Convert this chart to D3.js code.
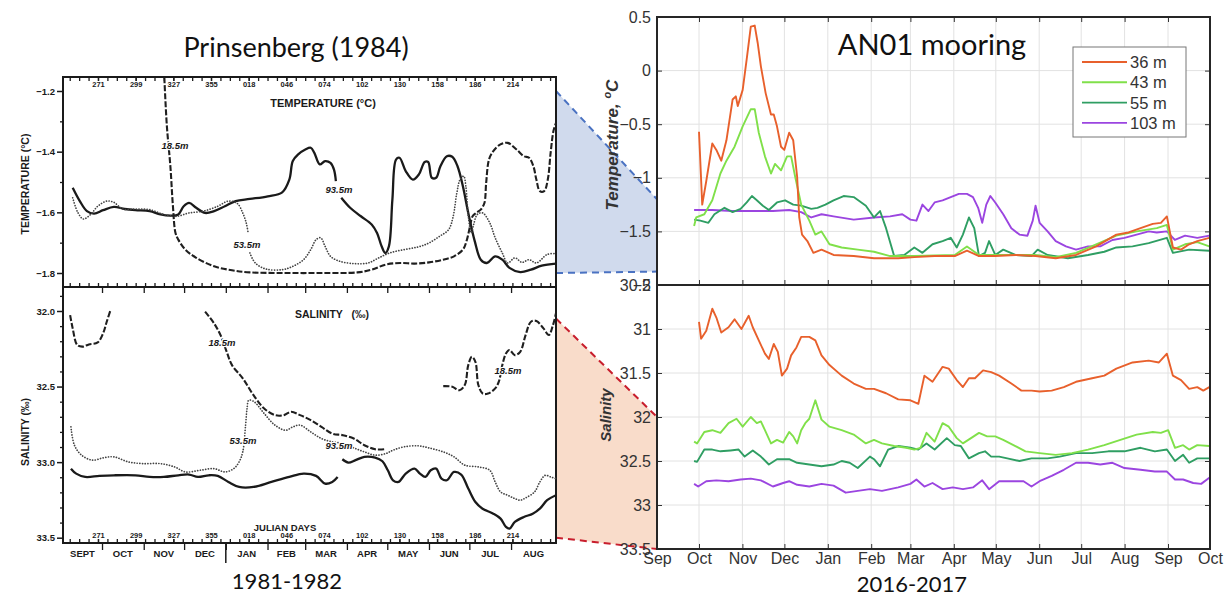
<!DOCTYPE html>
<html>
<head>
<meta charset="utf-8">
<script src="https://cdn.jsdelivr.net/npm/d3@7"></script>
<style>
  body { margin: 0; background: #fff; }
  svg { display: block; }
  .scan text { font-family: "Liberation Sans", Arial, sans-serif; font-weight: bold; fill: #1a1a1a; }
  .matlab text { font-family: "Liberation Sans", Arial, sans-serif; fill: #333; }
</style>
</head>
<body>
<svg id="fig" width="1225" height="596"></svg>
<script>
// ================= 1981-1982 record (Prinsenberg, 1984) =================
// x values are Julian days counted from 1 Jan 1981 (1982 days continue past 365)
const julianDays   = [271, 299, 327, 355, 383, 411, 439, 467, 495, 523, 551, 579];
const julianLabels = ["271", "299", "327", "355", "018", "046", "074", "102", "130", "158", "186", "214"];
const oldMonthNames  = ["SEPT", "OCT", "NOV", "DEC", "JAN", "FEB", "MAR", "APR", "MAY", "JUN", "JUL", "AUG"];
const oldMonthBounds = [245, 274, 305, 335, 366, 397, 425, 456, 486, 517, 547, 578, 611.4];
const oldTempTicks  = [-1.2, -1.4, -1.6, -1.8];
const oldTempMinor  = [-1.3, -1.5, -1.7];
const oldSalTicks   = [32.0, 32.5, 33.0, 33.5];
const oldSalMinor   = [31.9, 32.1, 32.2, 32.3, 32.4, 32.6, 32.7, 32.8, 32.9, 33.1, 33.2, 33.3, 33.4];

// temperature, 93.5 m (solid), two pieces around its label
const t935a = [[252.2,-1.519],[257.5,-1.563],[262.8,-1.596],[268.1,-1.604],[274.8,-1.593],[282.8,-1.582],[290.8,-1.589],[298.8,-1.593],[309.4,-1.596],[317.4,-1.607],[325.4,-1.611],[330.7,-1.607],[334.7,-1.580],[338.7,-1.569],[344,-1.585],[350.6,-1.602],[357.3,-1.596],[365.3,-1.580],[373.3,-1.563],[383.9,-1.556],[397.2,-1.547],[407.9,-1.534],[413.2,-1.492],[415.8,-1.431],[419.8,-1.409],[425.1,-1.393],[429.1,-1.387],[431.8,-1.404],[435.8,-1.442],[439.8,-1.431],[443.8,-1.437],[446.4,-1.459],[447.8,-1.497]];
const t935b = [[451.8,-1.552],[458.4,-1.585],[466.4,-1.613],[474.4,-1.640],[478.4,-1.668],[481.8,-1.712],[484.5,-1.734],[487.2,-1.712],[489.8,-1.558],[492.5,-1.426],[495.1,-1.420],[499.7,-1.464],[505,-1.492],[509.5,-1.475],[513.8,-1.434],[516.4,-1.434],[519.1,-1.486],[522.3,-1.486],[525.5,-1.448],[530.3,-1.415],[534.3,-1.417],[538.2,-1.448],[542.2,-1.514],[546.2,-1.602],[551,-1.695],[555.5,-1.756],[560,-1.767],[566.2,-1.745],[571.5,-1.756],[576.8,-1.783],[584.8,-1.797],[592.8,-1.789],[600.8,-1.776],[611.4,-1.769]];
// temperature, 53.5 m (dotted)
const t535a = [[252.2,-1.552],[256.2,-1.602],[260.2,-1.622],[265.5,-1.607],[270.8,-1.580],[277.5,-1.563],[282.8,-1.567],[289.4,-1.589],[298.8,-1.589],[309.4,-1.591],[320,-1.607],[329.4,-1.613],[338.7,-1.602],[349.3,-1.596],[360,-1.580],[367.9,-1.563],[374.6,-1.571],[378.6,-1.602],[381.2,-1.635],[382.6,-1.668]];
const t535b = [[383.9,-1.734],[387.9,-1.767],[395.9,-1.787],[407.9,-1.789],[415.8,-1.778],[423.8,-1.756],[429.1,-1.723],[433.1,-1.690],[436.5,-1.684],[439.8,-1.712],[443.8,-1.745],[450.4,-1.761],[461.1,-1.769],[471.7,-1.767],[479.7,-1.750],[487.7,-1.734],[498.3,-1.723],[509,-1.714],[517,-1.701],[524.9,-1.679],[531.6,-1.657],[535,-1.613],[537.7,-1.536],[540.1,-1.492],[542.8,-1.481],[544.4,-1.514],[546.2,-1.613],[548.4,-1.668],[550.2,-1.640],[552.9,-1.607],[556.9,-1.602],[562.2,-1.635],[566.2,-1.684],[571.5,-1.734],[575.5,-1.767],[580.8,-1.750],[586.1,-1.765],[591.4,-1.756],[596.8,-1.767],[604.8,-1.739],[611.4,-1.736]];
// temperature, 18.5 m (dashed)
const t185 = [[320.3,-1.155],[322.2,-1.316],[324.8,-1.448],[326.7,-1.580],[328.6,-1.668],[330.7,-1.690],[336,-1.723],[344,-1.750],[357.3,-1.778],[370.6,-1.791],[383.9,-1.798],[410.5,-1.800],[437.1,-1.800],[463.7,-1.798],[474.4,-1.789],[485,-1.772],[495.7,-1.767],[506.3,-1.769],[517,-1.765],[527.6,-1.756],[535.6,-1.745],[542.2,-1.723],[544.9,-1.695],[547.5,-1.646],[549.4,-1.613],[552,-1.602],[555.5,-1.591],[558.2,-1.569],[559.5,-1.503],[561.6,-1.426],[564.8,-1.398],[570.1,-1.376],[575.5,-1.371],[582.1,-1.393],[587.5,-1.415],[591.4,-1.420],[594.6,-1.448],[596.8,-1.492],[599.4,-1.530],[602.6,-1.530],[605.3,-1.492],[607.4,-1.404],[609.5,-1.332],[611.4,-1.305]];

// salinity, 93.5 m (solid)
const s935a = [[250.9,33.043],[254.8,33.076],[261.5,33.098],[272.1,33.091],[282.8,33.087],[298.8,33.087],[309.4,33.098],[320,33.098],[330.7,33.087],[338.7,33.082],[345.3,33.098],[353.3,33.087],[360,33.091],[367.9,33.131],[375.9,33.164],[386.6,33.164],[399.9,33.131],[413.2,33.098],[423.8,33.076],[433.1,33.091],[439.8,33.142],[445.1,33.131],[449.1,33.098]];
const s935b = [[452.6,32.981],[457.1,33.003],[462.4,32.987],[469,32.965],[477,32.970],[482.4,32.994],[486.4,33.054],[490.3,33.120],[494.3,33.131],[499.7,33.076],[506.3,33.043],[510.3,33.076],[514.3,33.098],[518.3,33.054],[522.3,33.043],[526.3,33.109],[530.3,33.120],[535.6,33.065],[540.9,33.082],[546.2,33.175],[551.5,33.264],[556.8,33.308],[564.8,33.341],[570.2,33.374],[574.2,33.429],[576.8,33.440],[580.8,33.396],[587.5,33.363],[594.1,33.341],[599.4,33.308],[604.8,33.252],[611.4,33.219]];
// salinity, 53.5 m (dotted)
const s535 = [[250.9,32.767],[253.5,32.888],[258.8,32.954],[266.8,32.987],[274.8,32.972],[282.8,32.965],[293.4,32.998],[304.1,33.010],[317.4,33.010],[328,33.032],[336,33.065],[346.6,33.054],[357.3,33.043],[365.3,33.065],[371.9,33.043],[375.9,32.998],[378.6,32.932],[380.7,32.755],[381.8,32.645],[383.1,32.590],[387.1,32.601],[394.5,32.678],[402.5,32.755],[410.5,32.789],[415.8,32.767],[421.2,32.755],[429.1,32.800],[437.1,32.844],[445.1,32.866],[453.1,32.877],[461.1,32.906],[469,32.932],[477,32.954],[485,32.943],[490.3,32.921],[498.3,32.899],[509,32.892],[517,32.906],[527.6,32.932],[535.6,32.965],[543.6,33.020],[554.2,33.032],[562.2,33.054],[566.2,33.131],[570.2,33.197],[575.5,33.219],[580.8,33.241],[584.8,33.252],[588.8,33.237],[595.5,33.197],[599.4,33.131],[603.4,33.087],[607.4,33.098],[611.4,33.109]];
// salinity, 18.5 m (dashed), three pieces
const s185a = [[250.3,32.027],[252.2,32.115],[255.6,32.225],[259.4,32.236],[264.2,32.221],[270.8,32.208],[274.8,32.148],[277.5,32.071],[280.1,32.0]];
const s185b = [[350.6,32.004],[357.3,32.082],[362.6,32.170],[366.6,32.269],[370.6,32.358],[378.6,32.446],[386.6,32.557],[394.5,32.645],[402.5,32.689],[409.2,32.689],[414.5,32.667],[421.2,32.689],[429.1,32.722],[437.1,32.767],[445.1,32.811],[453.1,32.822],[461.1,32.844],[469,32.888],[477,32.915],[483.7,32.915]];
const s185c = [[527.6,32.497],[534.3,32.501],[539.6,32.524],[543.6,32.490],[546.2,32.358],[548.9,32.303],[551.5,32.336],[553.7,32.490],[556.9,32.546],[560.9,32.546],[566.2,32.512],[568.9,32.468],[571.5,32.358],[574.2,32.281],[576.8,32.258],[580.8,32.292],[584.8,32.270],[588.8,32.159],[592.8,32.071],[596.8,32.066],[602.1,32.115],[606.1,32.159],[608.8,32.104],[611.4,32.015]];

// ================= 2016-2017 record (AN01 mooring) =================
// x values are days after 1 Sep 2016
const anMonthNames = ["Sep","Oct","Nov","Dec","Jan","Feb","Mar","Apr","May","Jun","Jul","Aug","Sep","Oct"];
const anTempTicks = [0.5, 0, -0.5, -1, -1.5, -2];
const anSalTicks  = [30.5, 31, 31.5, 32, 32.5, 33, 33.5];
const depthNames  = ["36 m", "43 m", "55 m", "103 m"];
const depthColors = ["#e8602c", "#80e04a", "#2f9e63", "#9b45e0"];

const temp36 = [[30,-0.57],[32.3,-1.25],[35.2,-1.03],[39.5,-0.68],[42.4,-0.74],[45.9,-0.84],[49.6,-0.65],[54,-0.27],[56.3,-0.24],[57.7,-0.33],[61.2,-0.18],[64.1,0.11],[67,0.41],[69.8,0.42],[71.9,0.26],[74.2,0.04],[77.6,-0.21],[81.4,-0.41],[83.4,-0.41],[85.7,-0.52],[88.6,-0.71],[90.9,-0.74],[94.4,-0.58],[97.3,-0.65],[100.1,-0.99],[101.6,-1.37],[103.6,-1.53],[107.4,-1.59],[111.7,-1.70],[117.5,-1.67],[126.1,-1.72],[140.5,-1.73],[155,-1.75],[172.3,-1.75],[183.8,-1.74],[198.3,-1.73],[212.7,-1.73],[221.4,-1.68],[230,-1.73],[241.6,-1.73],[256,-1.72],[270.4,-1.73],[284.8,-1.75],[299.3,-1.72],[313.7,-1.64],[328.1,-1.53],[336.8,-1.51],[345.4,-1.47],[354.1,-1.43],[359.9,-1.42],[364.2,-1.36],[368.5,-1.65],[374.3,-1.67],[380.1,-1.62],[385.9,-1.59],[394.5,-1.56]];
const temp43 = [[26.5,-1.45],[28,-1.37],[33.8,-1.34],[39.5,-1.21],[45.3,-0.96],[49.6,-0.84],[55.4,-0.71],[61.2,-0.52],[67,-0.36],[69.8,-0.36],[72.7,-0.58],[77.1,-0.80],[81.4,-0.96],[84.3,-0.87],[88.6,-0.93],[92.9,-0.80],[95.8,-0.80],[98.7,-0.99],[103,-1.25],[108.8,-1.40],[113.1,-1.53],[117.5,-1.50],[123.2,-1.62],[131.9,-1.65],[143.4,-1.67],[155,-1.69],[166.5,-1.73],[183.8,-1.73],[212.7,-1.72],[221.4,-1.64],[230,-1.72],[241.6,-1.72],[270.4,-1.72],[284.8,-1.74],[299.3,-1.70],[313.7,-1.62],[328.1,-1.54],[342.6,-1.50],[357,-1.47],[364.2,-1.44],[368.5,-1.67],[377.2,-1.62],[385.9,-1.60],[394.5,-1.64]];
const temp55 = [[26.5,-1.39],[30.9,-1.40],[36.7,-1.42],[41,-1.34],[48.2,-1.28],[54,-1.32],[59.7,-1.29],[64.1,-1.23],[67.8,-1.17],[71.3,-1.21],[75.6,-1.26],[79.9,-1.30],[85.7,-1.23],[91.5,-1.21],[97.3,-1.25],[103,-1.26],[110.2,-1.29],[114.6,-1.28],[120.3,-1.25],[126.1,-1.21],[133.3,-1.17],[140.5,-1.18],[149.2,-1.26],[155,-1.37],[159.3,-1.31],[163.6,-1.47],[169.4,-1.73],[176.6,-1.72],[183.8,-1.65],[189.6,-1.70],[196.8,-1.62],[204,-1.59],[209.8,-1.56],[214.1,-1.65],[218.5,-1.53],[222.8,-1.37],[226.6,-1.47],[230,-1.73],[234.3,-1.70],[237.2,-1.59],[241.6,-1.72],[247.3,-1.67],[256,-1.72],[267.5,-1.73],[271.9,-1.67],[279,-1.72],[293.5,-1.75],[307.9,-1.72],[319.5,-1.69],[328.1,-1.65],[339.7,-1.64],[351.2,-1.61],[364.2,-1.56],[368.5,-1.70],[380.1,-1.67],[394.5,-1.68]];
const temp103 = [[26.5,-1.30],[39.5,-1.30],[54,-1.31],[68.4,-1.31],[82.8,-1.31],[94.4,-1.30],[103,-1.32],[110.2,-1.37],[117.5,-1.34],[126.1,-1.36],[140.5,-1.39],[155,-1.37],[166.5,-1.36],[175.2,-1.34],[181,-1.39],[185.3,-1.40],[189.6,-1.25],[193.9,-1.31],[198.3,-1.23],[204,-1.21],[209.8,-1.18],[215.6,-1.15],[221.4,-1.15],[225.7,-1.18],[229.4,-1.28],[232.3,-1.42],[235.2,-1.25],[238.1,-1.17],[241.6,-1.23],[247.3,-1.34],[253.1,-1.47],[258.9,-1.53],[264.6,-1.54],[268.4,-1.40],[270.4,-1.26],[273.3,-1.42],[279,-1.50],[284.8,-1.59],[292.1,-1.64],[299.3,-1.67],[307.9,-1.64],[316.6,-1.64],[325.3,-1.58],[333.9,-1.56],[342.6,-1.53],[351.2,-1.50],[357,-1.51],[364.2,-1.50],[369.9,-1.58],[377.2,-1.54],[385.9,-1.56],[394.5,-1.54]];

const sal36 = [[30,30.92],[31.5,31.11],[35.2,31.02],[39.5,30.77],[42.4,30.87],[45.9,31.04],[51.1,30.98],[55.4,30.89],[60.3,31.0],[65.5,30.85],[68.4,30.98],[72.7,31.13],[77.1,31.28],[79.9,31.34],[83.4,31.17],[86.3,31.26],[89.2,31.53],[92.9,31.45],[95.8,31.30],[99.6,31.21],[103,31.09],[108.8,31.09],[113.1,31.13],[117.5,31.30],[123.2,31.41],[131.9,31.53],[140.5,31.62],[149.2,31.68],[155,31.68],[163.6,31.73],[172.3,31.80],[181,31.81],[186.7,31.85],[191,31.53],[196.8,31.60],[204,31.43],[208.4,31.45],[214.1,31.58],[218.5,31.66],[222.8,31.56],[227.1,31.56],[232.9,31.47],[238.7,31.49],[244.4,31.53],[253.1,31.62],[260.3,31.70],[267.5,31.70],[273.3,31.71],[281.9,31.70],[290.6,31.66],[299.3,31.60],[310.8,31.56],[319.5,31.53],[328.1,31.45],[339.7,31.38],[351.2,31.36],[358.5,31.38],[364.2,31.28],[368.5,31.53],[374.3,31.58],[380.1,31.68],[385.9,31.66],[390.2,31.70],[394.5,31.66]];
const sal43 = [[26.5,32.28],[28.6,32.30],[33.8,32.17],[39.5,32.15],[45.3,32.18],[51.1,32.07],[56.8,32.02],[61.2,32.11],[67,32.00],[71.3,32.07],[74.2,32.05],[77.1,32.15],[81.4,32.30],[85.7,32.26],[90.1,32.29],[94.4,32.17],[97.3,32.22],[100.1,32.30],[103,32.15],[105.9,32.07],[108.8,32.02],[113.1,31.81],[117.5,32.03],[123.2,32.11],[131.9,32.15],[140.5,32.20],[149.2,32.30],[155,32.26],[160.7,32.30],[169.4,32.33],[178,32.35],[183.8,32.37],[188.2,32.35],[192.5,32.18],[198.3,32.28],[204,32.07],[208.4,32.11],[214.1,32.24],[218.5,32.30],[224.3,32.24],[230,32.18],[235.8,32.22],[241.6,32.22],[247.3,32.26],[256,32.33],[263.2,32.39],[273.3,32.41],[284.8,32.43],[296.4,32.41],[307.9,32.37],[319.5,32.32],[331,32.26],[342.6,32.20],[354.1,32.17],[359.9,32.18],[365.1,32.15],[370,32.35],[375.8,32.32],[380.1,32.37],[385.9,32.32],[394.5,32.33]];
const sal55 = [[26.5,32.50],[28.6,32.51],[33.8,32.37],[39.5,32.37],[45.3,32.39],[52.5,32.38],[58.3,32.37],[62.6,32.45],[68.4,32.38],[74.2,32.45],[79.9,32.54],[85.7,32.48],[94.4,32.48],[100.1,32.52],[108.8,32.54],[117.5,32.56],[126.1,32.54],[131.9,32.50],[137.6,32.52],[143.4,32.58],[152.1,32.45],[155,32.48],[159.3,32.56],[165.1,32.37],[172.3,32.33],[181,32.35],[186.7,32.37],[192.5,32.30],[198.3,32.37],[207,32.24],[212.7,32.32],[217,32.33],[222.8,32.47],[230,32.41],[234.3,32.39],[238.7,32.45],[244.4,32.45],[250.2,32.47],[258.9,32.50],[267.5,32.47],[279,32.47],[287.7,32.45],[299.3,32.41],[310.8,32.41],[322.4,32.39],[333.9,32.39],[345.4,32.35],[355.6,32.39],[364.2,32.37],[370,32.50],[375.8,32.43],[380.1,32.52],[385.9,32.47],[394.5,32.47]];
const sal103 = [[26.5,32.76],[29.4,32.79],[35.2,32.73],[42.4,32.72],[51.1,32.73],[59.7,32.71],[67,32.70],[74.2,32.72],[82.8,32.79],[90.1,32.75],[94.4,32.73],[100.1,32.77],[108.8,32.79],[117.5,32.76],[126.1,32.78],[134.8,32.86],[143.4,32.84],[152.1,32.82],[160.7,32.84],[172.3,32.80],[181,32.76],[185.3,32.71],[191,32.79],[196.8,32.75],[204,32.82],[211.3,32.80],[218.5,32.82],[225.7,32.80],[232.3,32.72],[237.2,32.82],[244.4,32.73],[253.1,32.73],[261.8,32.73],[267.5,32.79],[273.3,32.73],[281.9,32.67],[290.6,32.60],[299.3,32.52],[307.9,32.52],[316.6,32.54],[325.3,32.52],[333.9,32.58],[345.4,32.60],[355.6,32.62],[364.2,32.62],[370,32.71],[375.8,32.71],[383,32.75],[388.7,32.76],[394.5,32.69]];

// value pairs linking the two temperature and salinity axes: [left axis, right axis]
const tempLink = [[-1.2, -1.2], [-1.8, -1.875]];
const salLink  = [[32.05, 32.0], [33.5, 33.5]];

// ----------------------------------------------------------------------
const svg = d3.select("#fig");

// left figure geometry
const L = { left: 63, right: 556, top: 77, mid: 287, bottom: 543 };
const xL  = d3.scaleLinear().domain([245, 611.4]).range([L.left, L.right]);
const yLT = d3.scaleLinear().domain([-1.2, -1.8]).range([91, 273]);
const yLS = d3.scaleLinear().domain([32.0, 33.5]).range([311, 537.7]);

// right figure geometry
const R = { left: 657, right: 1210, top: 17, mid: 285, bottom: 549 };
const anStart = new Date(2016, 8, 1);
const dayToDate = d => new Date(anStart.getTime() + d * 864e5);
const xR  = d3.scaleTime().domain([anStart, new Date(2017, 9, 1)]).range([R.left, R.right]);
const yRT = d3.scaleLinear().domain([-2, 0.5]).range([R.mid, R.top]);
const yRS = d3.scaleLinear().domain([30.5, 33.5]).range([R.mid, R.bottom]);
const anMonthTicks = d3.timeMonth.range(anStart, new Date(2017, 9, 2));

// ---------------- connecting wedges ----------------
const wedges = svg.append("g");
function wedge(link, yLeft, yRight, fill, stroke) {
  const pts = [
    [L.right, yLeft(link[0][0])], [R.left, yRight(link[0][1])],
    [R.left, yRight(link[1][1])], [L.right, yLeft(link[1][0])]
  ];
  wedges.append("path").attr("d", d3.line()(pts) + "Z").attr("fill", fill);
  [[pts[0], pts[1]], [pts[3], pts[2]]].forEach(seg => {
    wedges.append("path").attr("d", d3.line()(seg))
      .attr("stroke", stroke).attr("stroke-width", 2).attr("stroke-dasharray", "7,5")
      .attr("fill", "none");
  });
}
wedge(tempLink, yLT, yRT, "#d0daed", "#4a72c2");
wedge(salLink, yLS, yRS, "#f9dcca", "#c81e2d");

// ---------------- left figure ----------------
const gl = svg.append("g").attr("class", "scan");
const ink = "#1a1a1a";

gl.append("rect").attr("x", L.left).attr("y", L.top)
  .attr("width", L.right - L.left).attr("height", L.bottom - L.top)
  .attr("fill", "none").attr("stroke", ink).attr("stroke-width", 2);
gl.append("line").attr("x1", L.left).attr("x2", L.right).attr("y1", L.mid).attr("y2", L.mid)
  .attr("stroke", ink).attr("stroke-width", 2);

const weekly = d3.range(250, 611, 7);
const monthInner = oldMonthBounds.slice(1, -1);
function tickRow(axisFn, y, values, size, labels, fontSize) {
  const a = axisFn(xL).tickValues(values).tickSize(size).tickPadding(1)
    .tickFormat(labels ? (d, i) => labels[i] : "");
  const g = gl.append("g").attr("transform", `translate(0,${y})`).call(a);
  g.select(".domain").remove();
  g.selectAll("line").attr("stroke", ink).attr("stroke-width", 1.3);
  g.selectAll("text").attr("font-size", fontSize || 7).attr("fill", ink)
    .attr("font-family", "Liberation Sans, Arial, sans-serif").attr("font-weight", "bold");
  return g;
}
// top edge: weekly ticks and Julian day labels
tickRow(d3.axisBottom, L.top, weekly, 4);
tickRow(d3.axisBottom, L.top, julianDays, 4, julianLabels, 7.5);
// panel divider
tickRow(d3.axisTop, L.mid, weekly, 4);
tickRow(d3.axisBottom, L.mid, monthInner, 6);
// bottom edge
tickRow(d3.axisTop, L.bottom, weekly, 4);
tickRow(d3.axisTop, L.bottom, julianDays, 4, julianLabels, 7.5);
tickRow(d3.axisBottom, L.bottom, monthInner, 7);
gl.append("line").attr("x1", xL(366)).attr("x2", xL(366)).attr("y1", L.bottom).attr("y2", L.bottom + 20)
  .attr("stroke", ink).attr("stroke-width", 1.5);

// month names
gl.selectAll(".mname").data(oldMonthNames).join("text")
  .attr("x", (d, i) => xL((oldMonthBounds[i] + oldMonthBounds[i + 1]) / 2))
  .attr("y", 557).attr("text-anchor", "middle").attr("font-size", 9.5).text(d => d);

// y axes
function yAxisL(scale, major, minor, fmt) {
  const g = gl.append("g").attr("transform", `translate(${L.left},0)`)
    .call(d3.axisLeft(scale).tickValues(major).tickSize(6).tickPadding(2).tickFormat(fmt));
  g.select(".domain").remove();
  g.selectAll("line").attr("stroke", ink).attr("stroke-width", 1.5);
  g.selectAll("text").attr("font-size", 9.5).attr("fill", ink)
    .attr("font-family", "Liberation Sans, Arial, sans-serif").attr("font-weight", "bold");
  const m = gl.append("g").attr("transform", `translate(${L.left},0)`)
    .call(d3.axisLeft(scale).tickValues(minor).tickSize(3).tickFormat(""));
  m.select(".domain").remove();
  m.selectAll("line").attr("stroke", ink).attr("stroke-width", 1.3);
}
yAxisL(yLT, oldTempTicks, oldTempMinor, d3.format(".1f"));
yAxisL(yLS, oldSalTicks, oldSalMinor, d3.format(".1f"));

// axis and panel titles
gl.append("text").attr("transform", `translate(29,${(L.top + L.mid) / 2 + 2}) rotate(-90)`)
  .attr("text-anchor", "middle").attr("font-size", 10.5).text("TEMPERATURE  (°C)");
gl.append("text").attr("transform", `translate(29,432) rotate(-90)`)
  .attr("text-anchor", "middle").attr("font-size", 10.5).text("SALINITY (‰)");
gl.append("text").attr("x", 323).attr("y", 107).attr("text-anchor", "middle")
  .attr("font-size", 11).text("TEMPERATURE (°C)");
gl.append("text").attr("x", 295).attr("y", 318).attr("font-size", 10.5)
  .attr("xml:space", "preserve").style("white-space", "pre").text("SALINITY   (‰)");
gl.append("text").attr("x", 285).attr("y", 531).attr("text-anchor", "middle")
  .attr("font-size", 9.5).text("JULIAN DAYS");

// curves
const lineT = d3.line().x(d => xL(d[0])).y(d => yLT(d[1])).curve(d3.curveCatmullRom.alpha(0.5));
const lineS = d3.line().x(d => xL(d[0])).y(d => yLS(d[1])).curve(d3.curveCatmullRom.alpha(0.5));
const styles = {
  solid:  { stroke: "#1a1a1a", width: 2.3, dash: null },
  dotted: { stroke: "#444", width: 1.7, dash: "0.1,2.6" },
  dashed: { stroke: "#1f1f1f", width: 2.1, dash: "6,2" }
};
const curves = gl.append("g").attr("fill", "none");
[[t935a, lineT, "solid"], [t935b, lineT, "solid"], [t535a, lineT, "dotted"], [t535b, lineT, "dotted"],
 [t185, lineT, "dashed"], [s935a, lineS, "solid"], [s935b, lineS, "solid"], [s535, lineS, "dotted"],
 [s185a, lineS, "dashed"], [s185b, lineS, "dashed"], [s185c, lineS, "dashed"]].forEach(([data, gen, st]) => {
  const s = styles[st];
  curves.append("path").attr("d", gen(data)).attr("stroke", s.stroke)
    .attr("stroke-width", s.width).attr("stroke-dasharray", s.dash)
    .attr("stroke-linecap", st === "dotted" ? "round" : "butt");
});

// depth labels on the curves
const depthLabels = [
  { x: 175, y: 149, t: "18.5m" }, { x: 339, y: 193, t: "93.5m" }, { x: 247, y: 248, t: "53.5m" },
  { x: 222, y: 346, t: "18.5m" }, { x: 243, y: 444, t: "53.5m" }, { x: 339, y: 449, t: "93.5m" },
  { x: 508, y: 374, t: "18.5m" }
];
gl.selectAll(".dl").data(depthLabels).join("text")
  .attr("x", d => d.x).attr("y", d => d.y).attr("text-anchor", "middle")
  .attr("font-size", 9.5).attr("font-style", "italic").attr("fill", "#333")
  .attr("stroke", "#fff").attr("stroke-width", 2.5).attr("paint-order", "stroke").text(d => d.t);

// titles
svg.append("text").attr("x", 296).attr("y", 57).attr("text-anchor", "middle")
  .attr("font-family", "Lato, 'Open Sans', sans-serif").attr("font-size", 27).attr("fill", "#111")
  .text("Prinsenberg (1984)");
svg.append("text").attr("x", 287).attr("y", 589).attr("text-anchor", "middle")
  .attr("font-family", "Lato, 'Open Sans', sans-serif").attr("font-size", 22).attr("fill", "#111")
  .text("1981-1982");

// ---------------- right figure ----------------
const gr = svg.append("g").attr("class", "matlab");
const grid = gr.append("g").attr("stroke", "#e2e2e2").attr("stroke-width", 1);
anMonthTicks.slice(1, -1).forEach(d => {
  grid.append("line").attr("x1", xR(d)).attr("x2", xR(d)).attr("y1", R.top).attr("y2", R.bottom);
});
anTempTicks.slice(1, -1).forEach(v => {
  grid.append("line").attr("x1", R.left).attr("x2", R.right).attr("y1", yRT(v)).attr("y2", yRT(v));
});
anSalTicks.slice(1, -1).forEach(v => {
  grid.append("line").attr("x1", R.left).attr("x2", R.right).attr("y1", yRS(v)).attr("y2", yRS(v));
});

// series
const lineRT = d3.line().x(d => xR(dayToDate(d[0]))).y(d => yRT(d[1]));
const lineRS = d3.line().x(d => xR(dayToDate(d[0]))).y(d => yRS(d[1]));
const series = gr.append("g").attr("fill", "none").attr("stroke-width", 1.9).attr("stroke-linejoin", "round");
[sal103, sal55, sal43, sal36].forEach((s, i) => {
  series.append("path").attr("d", lineRS(s)).attr("stroke", depthColors[3 - i]);
});
[temp103, temp55, temp43, temp36].forEach((s, i) => {
  series.append("path").attr("d", lineRT(s)).attr("stroke", depthColors[3 - i]);
});

// axes
function styleAxis(g) {
  g.select(".domain").remove();
  g.selectAll("line").attr("stroke", "#333").attr("stroke-width", 1);
  g.selectAll("text").attr("font-size", 16).attr("fill", "#333")
    .attr("font-family", "Liberation Sans, Arial, sans-serif");
}
gr.append("g").attr("transform", `translate(${R.left},0)`)
  .call(d3.axisLeft(yRT).tickValues(anTempTicks).tickSize(-5).tickPadding(6).tickFormat(d3.format("")))
  .call(styleAxis);
gr.append("g").attr("transform", `translate(${R.left},0)`)
  .call(d3.axisLeft(yRS).tickValues(anSalTicks).tickSize(-5).tickPadding(6).tickFormat(d3.format("")))
  .call(styleAxis);
gr.append("g").attr("transform", `translate(${R.right},0)`)
  .call(d3.axisRight(yRT).tickValues(anTempTicks).tickSize(-5).tickFormat(""))
  .call(styleAxis);
gr.append("g").attr("transform", `translate(${R.right},0)`)
  .call(d3.axisRight(yRS).tickValues(anSalTicks).tickSize(-5).tickFormat(""))
  .call(styleAxis);
gr.append("g").attr("transform", `translate(0,${R.bottom})`)
  .call(d3.axisBottom(xR).tickValues(anMonthTicks).tickSize(-5).tickPadding(4)
    .tickFormat((d, i) => anMonthNames[i]))
  .call(styleAxis);
gr.append("g").attr("transform", `translate(0,${R.mid})`)
  .call(d3.axisBottom(xR).tickValues(anMonthTicks).tickSize(-5).tickFormat(""))
  .call(styleAxis);
gr.append("g").attr("transform", `translate(0,${R.top})`)
  .call(d3.axisTop(xR).tickValues(anMonthTicks).tickSize(-5).tickFormat(""))
  .call(styleAxis);

// frames
gr.append("rect").attr("x", R.left).attr("y", R.top).attr("width", R.right - R.left)
  .attr("height", R.bottom - R.top).attr("fill", "none").attr("stroke", "#262626").attr("stroke-width", 2);
gr.append("line").attr("x1", R.left).attr("x2", R.right).attr("y1", R.mid).attr("y2", R.mid)
  .attr("stroke", "#262626").attr("stroke-width", 2);

// axis labels
const yTitle = gr.append("text").attr("transform", `translate(618,${145}) rotate(-90)`)
  .attr("text-anchor", "middle").attr("font-size", 17).attr("font-weight", "bold")
  .attr("font-style", "italic").attr("fill", "#222");
yTitle.append("tspan").text("Temperature, ");
yTitle.append("tspan").attr("font-size", 11).attr("dy", -7).text("o");
yTitle.append("tspan").attr("dy", 7).text("C");
gr.append("text").attr("transform", `translate(611,415) rotate(-90)`)
  .attr("text-anchor", "middle").attr("font-size", 15).attr("font-weight", "bold")
  .attr("font-style", "italic").attr("fill", "#222").text("Salinity");

// legend
const lg = gr.append("g").attr("transform", "translate(1073,47)");
lg.append("rect").attr("width", 113).attr("height", 90).attr("fill", "#fff")
  .attr("stroke", "#777").attr("stroke-width", 1);
depthNames.forEach((n, i) => {
  const y = 15 + i * 20.3;
  lg.append("line").attr("x1", 9).attr("x2", 54).attr("y1", y).attr("y2", y)
    .attr("stroke", depthColors[i]).attr("stroke-width", 1.9);
  lg.append("text").attr("x", 57).attr("y", y + 6).attr("font-size", 16.5).text(n);
});

// titles
svg.append("text").attr("x", 932).attr("y", 55).attr("text-anchor", "middle")
  .attr("font-family", "Lato, 'Open Sans', sans-serif").attr("font-size", 29).attr("fill", "#111")
  .text("AN01 mooring");
svg.append("text").attr("x", 912).attr("y", 592).attr("text-anchor", "middle")
  .attr("font-family", "Lato, 'Open Sans', sans-serif").attr("font-size", 22).attr("fill", "#111")
  .text("2016-2017");
</script>
</body>
</html>
